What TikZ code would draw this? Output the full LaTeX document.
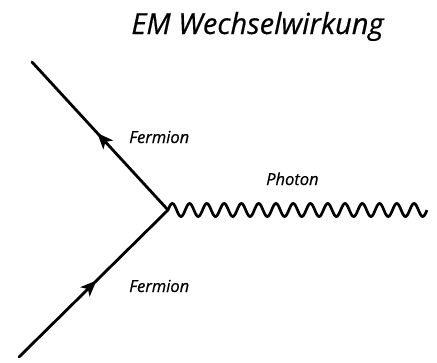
\documentclass[tikz,border=0pt]{standalone}
\usepackage{fontspec}
\setmainfont{Open Sans}[ItalicFeatures={FakeBold=0.5}]
\usetikzlibrary{decorations.markings,arrows.meta}
\begin{document}
\begin{tikzpicture}[x=1pt,y=-1pt,
  fermion/.style={line width=2.8pt,line cap=round,
    postaction={decorate,decoration={markings,
      mark=at position 0.52 with {\arrow{Stealth[length=16pt,width=13pt,inset=4pt]}}}}},
  photon/.style={line width=2.7pt,line join=round},
  lbl/.style={font=\fontsize{16.5}{19}\selectfont\itshape,inner sep=0pt,anchor=base west},
  ttl/.style={font=\fontsize{29}{33}\selectfont\itshape,inner sep=0pt,anchor=base}]
\useasboundingbox (0,0) rectangle (437,362);
\coordinate (v) at (168,210);
\coordinate (ftop) at (32,62);
\coordinate (fbot) at (19,357);
\node[ttl] (title) at (257.5,34) {EM Wechselwirkung};
\draw[fermion] (v) -- (ftop);
\draw[fermion] (fbot) -- (v);
\begin{scope}[shift={(v)}]
\draw[photon] plot[domain=0:259,samples=500] (\x,{-6.5*sin(\x*20.846)});
\end{scope}
\node[lbl] (lf1) at (129,143) {Fermion};
\node[lbl] (lp) at (266,185) {Photon};
\node[lbl] (lf2) at (129,292) {Fermion};
\end{tikzpicture}
\end{document}
